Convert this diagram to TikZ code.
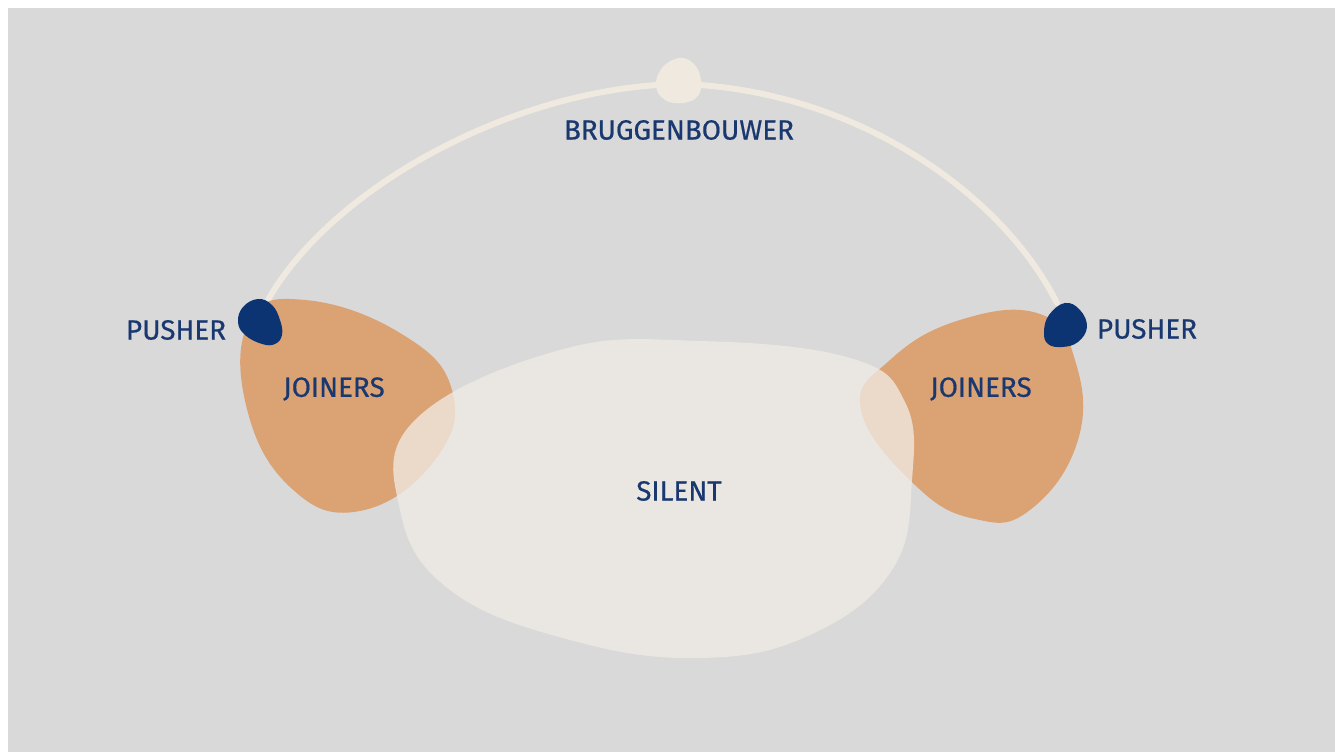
\documentclass[tikz,border=0pt]{standalone}
\usepackage{fontspec}
\setmainfont{Fira Sans}[FakeBold=0.6]
\definecolor{bg}{RGB}{217,217,217}
\definecolor{navy}{RGB}{12,52,114}
\definecolor{txt}{RGB}{26,56,112}
\definecolor{joiner}{RGB}{219,162,116}
\definecolor{silent}{RGB}{241,236,230}
\definecolor{bridge}{RGB}{239,233,224}
\tikzset{
	lbl/.style={text=txt, font=\fontsize{7.9}{9}\selectfont, inner sep=0pt},
	bridgeline/.style={draw=bridge, line width=1.7pt, line cap=round}
}
\begin{document}
\begin{tikzpicture}[x=0.01cm, y=-0.01cm, line join=round, line cap=round]
	\useasboundingbox (0,0) rectangle (1335,752);
	\fill[white] (0,0) rectangle (1335,752);
	\fill[bg] (8,8) rectangle (1335,752);
	\coordinate (tipL) at (268,300);
	\coordinate (tipR) at (1057,303);
	\coordinate (top) at (678,84);
	\draw[bridgeline] (tipL) .. controls (330,190) and (510,88) .. (top) .. controls (850,88) and (1000,190) .. (tipR);
	\fill[bridge] plot[smooth cycle, tension=0.7] coordinates {(679,58) (694,64) (701,80) (698,96) (683,103) (665,100) (656,86) (662,68)};
	% joiners
	\fill[joiner] plot[smooth cycle, tension=0.75] coordinates {(305,300) (400,333) (452,390) (435,460) (360,511) (290,487) (246,405) (250,320)};
	\fill[joiner] plot[smooth cycle, tension=0.75] coordinates {(890,360) (960,320) (1040,314) (1075,360) (1078,440) (1030,510) (975,519) (915,485) (861,410)};
	% silent
	\fill[silent, fill opacity=0.75] plot[smooth cycle, tension=0.7] coordinates {(560,350) (700,341) (850,358) (905,402) (912,480) (892,570) (810,635) (700,658) (570,640) (450,590) (400,510) (415,420)};
	% pushers
	\fill[navy] plot[smooth cycle, tension=0.7] coordinates {(258,299) (272,305) (280,320) (282,335) (275,344) (262,344) (245,335) (238,322) (243,307)};
	\fill[navy] plot[smooth cycle, tension=0.7] coordinates {(1065,303) (1080,310) (1087,327) (1078,342) (1062,347) (1048,344) (1044,332) (1049,315)};
	\foreach \x/\y/\n/\t in {
		679/130/brug/BRUGGENBOUWER,
		176/330/pushL/PUSHER,
		1147/329/pushR/PUSHER,
		334/389/joinL/JOINERS,
		981/389/joinR/JOINERS,
		679/491/sil/SILENT}
	\node[lbl] (\n) at (\x,\y) {\t};
\end{tikzpicture}
\end{document}
